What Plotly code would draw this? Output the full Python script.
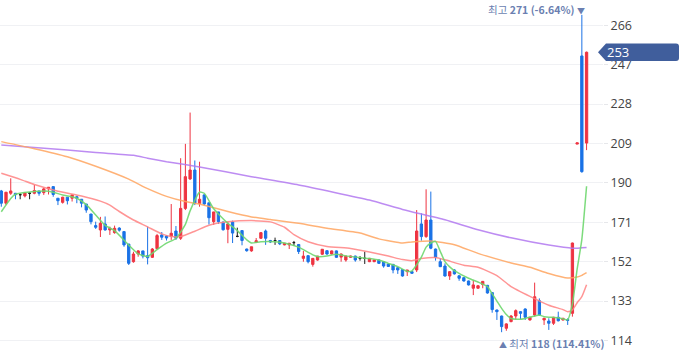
import plotly.graph_objects as go

# ---- daily candles (oldest -> newest) ----
opens = [186.1, 180.2, 185.0, 185.0, 184.3, 183.7, 185.0, 185.0, 186.1, 185.3,
         187.1, 188.2, 182.6, 180.6, 183.1, 182.6, 183.3, 182.1, 179.8, 175.0,
         169.4, 167.3, 170.2, 167.3, 166.0, 168.2, 166.5, 160.5, 152.0, 155.7,
         157.2, 154.9, 154.1, 158.3, 164.9, 164.4, 164.2, 166.8, 163.3, 177.7,
         191.9, 196.2, 180.0, 184.2, 180.4, 171.3, 176.0, 171.1, 167.6, 171.1,
         164.2, 167.0, 158.1, 157.2, 161.4, 163.3, 166.8, 162.2, 162.2, 162.2,
         160.1, 160.1, 161.2, 160.3, 153.6, 154.9, 150.7, 152.8, 155.6, 157.3,
         155.7, 157.2, 154.2, 152.8, 154.1, 154.7, 153.6, 153.6, 152.0, 152.0,
         152.8, 152.0, 150.9, 150.7, 149.1, 148.2, 147.2, 147.2, 148.0, 170.2,
         164.1, 172.1, 158.1, 152.0, 149.9, 145.1, 148.0, 145.2, 144.3, 142.7,
         139.2, 139.2, 141.0, 140.6, 137.1, 128.7, 125.8, 119.9, 123.1, 125.8,
         127.9, 129.2, 123.9, 126.3, 133.2, 123.9, 123.4, 122.3, 125.2, 123.9,
         124.1, 127.1, 208.7, 251.2, 209.2]
highs = [186.6, 185.5, 192.2, 185.0, 185.0, 185.5, 185.5, 189.0, 186.1, 187.7,
         187.9, 188.2, 182.6, 183.3, 183.1, 184.2, 183.8, 182.1, 179.8, 175.0,
         171.3, 173.6, 173.8, 168.9, 169.4, 168.6, 166.5, 160.5, 156.8, 157.6,
         157.2, 168.9, 158.6, 165.4, 166.3, 164.8, 179.8, 169.2, 201.9, 208.8,
         223.9, 200.8, 200.2, 184.5, 180.4, 176.0, 176.0, 171.3, 171.3, 171.8,
         168.4, 167.0, 158.3, 159.2, 163.4, 166.3, 167.5, 162.5, 163.6, 162.2,
         160.9, 160.9, 162.0, 160.5, 157.2, 155.0, 153.6, 154.7, 158.0, 157.5,
         157.4, 157.4, 155.9, 154.9, 154.9, 154.9, 154.7, 156.8, 153.8, 153.0,
         153.0, 152.2, 151.0, 150.9, 149.3, 148.4, 148.0, 147.4, 176.9, 175.3,
         186.9, 185.8, 158.3, 153.6, 151.2, 147.4, 148.4, 145.4, 144.5, 142.9,
         143.2, 140.6, 142.7, 140.8, 137.3, 128.9, 126.0, 122.3, 126.3, 129.0,
         128.1, 129.5, 125.4, 141.9, 134.3, 124.9, 124.7, 125.4, 127.9, 124.9,
         124.7, 161.2, 209.3, 271.0, 253.3]
lows = [178.5, 179.3, 184.2, 182.1, 182.1, 183.0, 182.1, 184.5, 183.8, 184.2,
        184.4, 183.3, 179.3, 180.0, 179.6, 181.0, 180.2, 178.2, 175.6, 170.0,
        167.8, 163.9, 167.0, 164.9, 165.5, 166.5, 159.2, 150.4, 151.5, 154.4,
        153.6, 150.7, 153.8, 158.0, 162.5, 162.2, 162.5, 162.5, 162.5, 176.9,
        191.4, 179.3, 178.5, 179.1, 169.9, 169.7, 170.2, 167.0, 160.9, 161.0,
        163.8, 159.9, 156.8, 156.8, 161.0, 163.0, 160.1, 161.0, 160.1, 160.0,
        159.9, 158.1, 159.6, 155.7, 152.0, 151.2, 149.6, 152.5, 155.3, 155.3,
        155.5, 153.8, 152.0, 152.0, 153.9, 152.0, 152.5, 150.9, 151.8, 151.8,
        151.0, 149.1, 149.5, 146.4, 146.1, 144.8, 145.1, 146.2, 147.0, 162.1,
        163.5, 158.0, 152.5, 149.4, 144.8, 143.2, 145.8, 142.8, 142.4, 140.5,
        135.9, 139.0, 139.2, 136.6, 127.4, 123.9, 118.0, 118.7, 122.8, 124.2,
        124.2, 123.9, 123.6, 125.5, 126.0, 121.5, 119.1, 121.5, 123.2, 123.6,
        121.5, 125.5, 208.7, 194.9, 205.8]
closes = [180.2, 185.5, 186.1, 184.3, 184.3, 185.1, 185.0, 186.3, 185.0, 187.1,
          187.9, 184.4, 181.4, 183.1, 181.4, 184.2, 182.6, 180.2, 176.9, 171.3,
          168.6, 170.5, 167.3, 168.1, 168.1, 167.2, 160.1, 151.2, 155.7, 157.2,
          154.7, 153.9, 158.1, 164.6, 163.8, 163.4, 165.7, 163.3, 177.7, 193.0,
          196.2, 180.2, 182.1, 179.8, 173.2, 176.0, 171.3, 167.4, 170.2, 165.8,
          164.2, 162.2, 157.3, 159.2, 162.1, 166.0, 163.3, 161.5, 162.2, 160.6,
          160.9, 160.9, 161.2, 156.9, 154.7, 152.0, 153.6, 154.7, 158.0, 155.7,
          157.2, 154.1, 155.7, 154.7, 154.7, 152.8, 153.6, 153.6, 153.6, 152.8,
          151.2, 149.9, 149.7, 148.0, 148.0, 145.1, 148.0, 146.4, 166.8, 164.1,
          172.1, 158.5, 154.1, 149.6, 145.1, 147.2, 146.1, 144.0, 142.7, 140.8,
          140.8, 140.4, 142.5, 136.9, 128.9, 127.9, 120.7, 122.0, 125.8, 128.4,
          127.1, 125.2, 125.2, 135.1, 126.3, 124.7, 122.3, 125.2, 123.5, 124.7,
          123.7, 161.0, 209.3, 195.4, 253.0]
days = list(range(len(opens)))

# ---- moving averages (day index, value) ----
ma5_day = [0, 2, 3, 6, 10, 13, 16, 18, 20, 22, 24, 27, 29, 31, 33, 35, 37, 39, 40,
           42, 43, 45, 46, 48, 50, 52, 53, 55, 58, 60, 63, 64, 66, 67, 69, 71, 73,
           76, 78, 80, 82, 84, 86, 87, 88, 89, 90, 91, 92, 93, 94, 95, 96, 99, 101,
           103, 104, 105, 106, 107, 108, 110, 113, 114, 115, 118, 120, 121, 122,
           123, 124]
ma5_val = [176.1, 182.5, 184.5, 185.6, 186.0, 184.2, 182.6, 179.5, 174.5, 169.5,
           167.0, 160.0, 155.8, 154.5, 157.8, 160.9, 163.2, 170.0, 176.5, 185.5,
           185.0, 177.5, 175.0, 170.5, 167.0, 162.5, 161.0, 161.6, 161.6, 161.0,
           159.0, 157.8, 155.3, 154.5, 154.7, 155.6, 154.8, 154.0, 153.5, 152.8,
           151.2, 149.6, 147.4, 147.6, 150.5, 154.2, 159.0, 161.0, 161.8, 157.0,
           152.0, 149.5, 147.7, 144.0, 142.2, 140.0, 136.5, 133.0, 129.5, 126.5,
           124.6, 124.2, 125.8, 126.3, 125.5, 125.0, 124.0, 131.6, 148.4, 162.8,
           188.4]
ma20_day = [0, 4, 7, 12, 17, 21, 23, 25, 28, 31, 34, 36, 38, 41, 44, 48, 53, 57,
            60, 62, 65, 69, 74, 78, 82, 85, 87, 89, 92, 94, 98, 101, 105, 108, 112,
            116, 119, 120, 121, 122, 123, 124]
ma20_val = [194.6, 191.7, 189.2, 186.0, 183.7, 181.2, 179.3, 176.2, 172.1, 168.8,
            165.4, 164.1, 164.1, 166.7, 169.6, 171.2, 171.8, 171.2, 168.6, 165.0,
            161.6, 159.3, 158.4, 156.7, 154.7, 153.0, 152.5, 153.5, 154.0, 152.9,
            150.3, 149.3, 145.3, 140.0, 135.3, 131.0, 128.9, 127.9, 128.8, 132.2,
            135.2, 140.9]
ma60_day = [0, 7, 14, 20, 27, 31, 35, 39, 42, 44, 48, 53, 57, 63, 69, 76, 80, 85,
            87, 91, 96, 101, 108, 112, 116, 120, 122, 123, 124]
ma60_val = [209.9, 206.5, 202.6, 198.0, 191.8, 187.2, 183.5, 181.0, 179.8, 178.6,
            176.2, 173.6, 172.3, 170.5, 168.1, 165.8, 163.0, 161.0, 161.5, 162.0,
            160.2, 156.0, 151.4, 149.3, 146.3, 144.1, 144.6, 145.4, 146.7]
ma120_day = [0, 14, 20, 28, 31, 35, 42, 53, 63, 78, 85, 94, 101, 108, 116, 121, 124]
ma120_val = [208.3, 205.9, 204.6, 203.3, 201.9, 200.2, 197.7, 193.0, 189.0, 181.7,
             177.2, 172.2, 167.4, 163.5, 160.0, 158.5, 158.9]

price_ticks = [114, 133, 152, 171, 190, 209, 228, 247, 266]

RED = "#ee3341"
BLUE = "#1a72e6"
BLACK = "#1b1b1b"

up = [i for i in days if closes[i] > opens[i]]
down = [i for i in days if closes[i] < opens[i]]
flat = [i for i in days if closes[i] == opens[i]]


def candles(ids, color):
    return go.Candlestick(
        x=[days[i] for i in ids],
        open=[opens[i] for i in ids],
        high=[highs[i] for i in ids],
        low=[lows[i] for i in ids],
        close=[closes[i] for i in ids],
        increasing=dict(line=dict(color=color, width=1), fillcolor=color),
        decreasing=dict(line=dict(color=color, width=1), fillcolor=color),
        whiskerwidth=0,
        showlegend=False,
        hoverinfo="skip",
    )


fig = go.Figure()
fig.add_trace(candles(up, RED))
fig.add_trace(candles(down, BLUE))
fig.add_trace(candles(flat, BLACK))

for xs, ys, col in [
    (ma120_day, ma120_val, "rgba(178,120,240,0.85)"),
    (ma60_day, ma60_val, "rgba(255,165,95,0.85)"),
    (ma20_day, ma20_val, "rgba(255,130,130,0.85)"),
    (ma5_day, ma5_val, "rgba(110,215,110,0.9)"),
]:
    fig.add_trace(go.Scatter(x=xs, y=ys, mode="lines",
                             line=dict(color=col, width=1.5, shape="spline", smoothing=0.5),
                             showlegend=False, hoverinfo="skip"))

current = closes[-1]
hi = max(highs)
hi_day = highs.index(hi)
lo = min(lows)
lo_day = lows.index(lo)
hi_pct = (current - hi) / hi * 100
lo_pct = (current - lo) / lo * 100

LABEL = "#6b7fb1"
LABEL_FONT = "Noto Sans CJK KR, sans-serif"
annotations = [
    dict(x=hi_day, y=hi, xref="x", yref="y", xanchor="right", yanchor="bottom",
         xshift=5, yshift=-4, showarrow=False,
         text=f"최고 <b>{hi:.0f} ({hi_pct:.2f}%)</b> <span style='font-size:8px'>▼</span>",
         font=dict(size=10.5, color=LABEL, family=LABEL_FONT)),
    dict(x=lo_day, y=lo, xref="x", yref="y", xanchor="left", yanchor="top",
         xshift=-5, yshift=-2, showarrow=False,
         text=f"<span style='font-size:8px'>▲</span> 최저 <b>{lo:.0f} ({lo_pct:.2f}%)</b>",
         font=dict(size=10.5, color=LABEL, family=LABEL_FONT)),
    dict(x=1, y=current, xref="paper", yref="y", xanchor="left", yanchor="middle",
         xshift=2, showarrow=False, text=f"{current:.0f}",
         font=dict(size=13, color="white")),
]

shapes = [
    dict(type="path", xref="paper", yref="y", xsizemode="pixel", ysizemode="pixel",
         xanchor=1, yanchor=current,
         path="M -5,0 L 3,8.8 L 73,8.8 Q 76,8.8 76,5.8 L 76,-5.8 Q 76,-8.8 73,-8.8 L 3,-8.8 Z",
         fillcolor="#405e9c", line=dict(width=0), layer="above"),
]

fig.update_layout(
    width=680, height=358,
    margin=dict(l=0, r=77, t=0, b=0),
    paper_bgcolor="white", plot_bgcolor="white",
    font=dict(family="Open Sans, Noto Sans CJK KR, sans-serif"),
    showlegend=False,
    annotations=annotations,
    shapes=shapes,
    xaxis=dict(range=[-0.275, 127.48], visible=False, showgrid=False,
               rangeslider=dict(visible=False), fixedrange=True),
    yaxis=dict(side="right", range=[105.56, 278.18], tickvals=price_ticks,
               showgrid=True, gridcolor="#f0f1f4", gridwidth=1, zeroline=False,
               showline=False, ticks="outside", ticklen=4, tickcolor="#e6e7ea",
               tickfont=dict(size=12.5, color="#444444"), fixedrange=True),
)

fig.write_html("out.html", config={"displayModeBar": False},
               post_script="document.body.style.margin='0px';document.body.style.overflow='hidden';")
